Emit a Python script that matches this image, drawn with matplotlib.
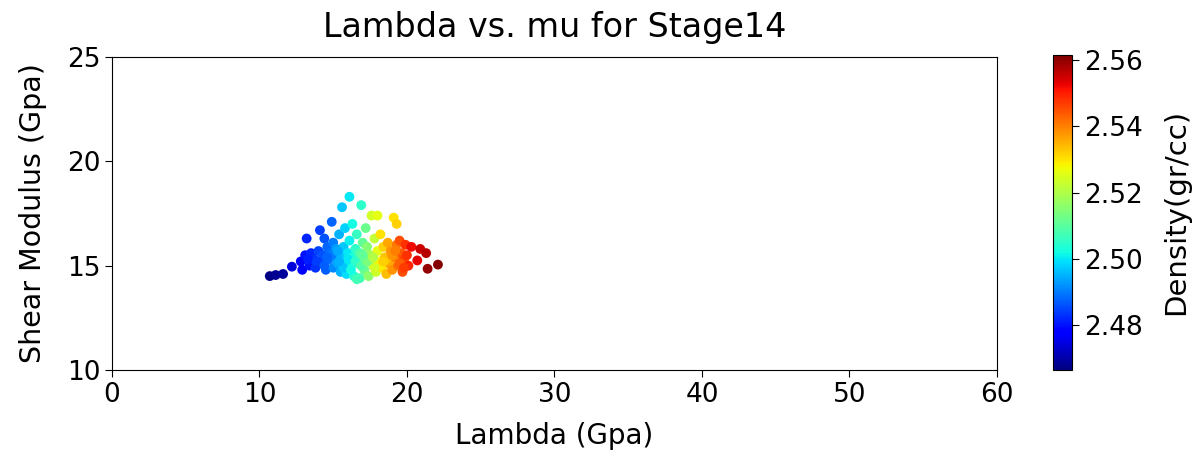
import matplotlib
matplotlib.use("Agg")
import matplotlib.pyplot as plt
import numpy as np

# Lambda (Gpa), shear modulus mu (Gpa) and density (gr/cc) per sample
lam = [10.7, 11.1, 11.6, 12.2, 12.8, 12.9, 13.1, 13.2, 13.4, 13.5, 13.7, 13.8,
       14.0, 14.1, 14.2, 14.3, 14.4, 14.5, 14.6, 14.7, 14.8, 14.9, 15.0, 15.0,
       15.1, 15.2, 15.3, 15.4, 15.5, 15.5, 15.6, 15.7, 15.8, 15.8, 15.9, 16.0,
       16.1, 16.1, 16.2, 16.3, 16.3, 16.4, 16.5, 16.6, 16.7, 16.8, 16.8, 16.9,
       17.0, 17.1, 17.1, 17.2, 17.3, 17.4, 17.5, 17.6, 17.7, 17.8, 17.9, 18.0,
       18.0, 18.1, 18.2, 18.3, 18.4, 18.5, 18.6, 18.7, 18.8, 18.9, 19.0, 19.1,
       19.2, 19.3, 19.3, 19.4, 19.5, 19.6, 19.7, 19.8, 19.9, 20.0, 20.1, 20.3,
       20.7, 20.9, 21.3, 21.4, 22.1,
       13.3, 13.9, 14.4, 14.9, 15.3, 15.7, 16.0, 16.5, 16.9, 17.3, 17.7, 18.2,
       18.6, 19.0, 19.5, 14.6, 15.4, 16.2, 17.0, 17.8, 18.4, 19.2, 19.8, 16.6]
mu = [14.50, 14.55, 14.60, 14.95, 15.20, 14.80, 15.50, 16.30, 15.00, 15.60, 15.30, 14.90,
      15.70, 16.70, 15.20, 15.50, 16.30, 14.80, 15.90, 15.30, 15.60, 17.10, 14.90, 16.10,
      15.40, 15.80, 15.10, 16.50, 14.70, 15.50, 17.80, 15.90, 15.20, 16.80, 14.60, 15.60,
      18.30, 16.20, 15.00, 15.40, 17.00, 14.50, 15.80, 16.50, 15.10, 14.40, 15.60, 17.90,
      16.10, 14.80, 15.30, 16.80, 15.90, 14.50, 15.50, 17.40, 15.00, 16.30, 14.70, 15.70,
      17.40, 15.20, 16.50, 14.90, 15.90, 15.40, 14.60, 16.10, 15.10, 15.70, 14.80, 17.30,
      15.40, 17.00, 16.00, 15.00, 16.20, 15.60, 14.70, 15.30, 16.00, 15.50, 15.00, 15.90,
      15.25, 15.80, 15.60, 14.85, 15.05,
      15.30, 15.20, 15.00, 15.50, 15.70, 14.90, 15.30, 15.20, 15.00, 15.20, 15.40, 15.00,
      15.30, 15.50, 15.10, 15.40, 15.20, 14.80, 15.50, 14.90, 15.20, 15.70, 14.90, 14.35]
rho = [2.467, 2.468, 2.469, 2.474, 2.478, 2.477, 2.480, 2.482, 2.480, 2.482, 2.483, 2.483,
       2.485, 2.484, 2.486, 2.486, 2.486, 2.487, 2.488, 2.489, 2.489, 2.488, 2.491, 2.490,
       2.492, 2.493, 2.494, 2.495, 2.495, 2.496, 2.497, 2.497, 2.498, 2.498, 2.499, 2.500,
       2.500, 2.501, 2.502, 2.503, 2.502, 2.504, 2.505, 2.506, 2.507, 2.508, 2.509, 2.505,
       2.511, 2.512, 2.513, 2.512, 2.515, 2.516, 2.518, 2.524, 2.520, 2.522, 2.523, 2.526,
       2.526, 2.528, 2.530, 2.530, 2.532, 2.533, 2.534, 2.536, 2.536, 2.538, 2.538, 2.530,
       2.540, 2.532, 2.541, 2.542, 2.545, 2.544, 2.545, 2.546, 2.548, 2.548, 2.549, 2.552,
       2.553, 2.555, 2.557, 2.560, 2.561,
       2.481, 2.484, 2.487, 2.490, 2.494, 2.497, 2.500, 2.505, 2.509, 2.514, 2.520, 2.529,
       2.534, 2.538, 2.543, 2.488, 2.495, 2.502, 2.511, 2.524, 2.532, 2.540, 2.547, 2.507]

plt.rcParams["font.family"] = "DejaVu Sans"
plt.rcParams["xtick.major.size"] = 5
plt.rcParams["ytick.major.size"] = 5

fig = plt.figure(figsize=(11.96, 4.57), dpi=100)
ax = fig.add_axes([0.0936, 0.1904, 0.74, 0.685])
cax = fig.add_axes([0.8804, 0.1904, 0.0159, 0.6895])

sc = ax.scatter(lam, mu, c=rho, cmap="jet", s=50, vmin=2.4665, vmax=2.5615,
                edgecolors="none")
ax.set_xlim(0, 60)
ax.set_ylim(10, 25)
ax.set_xticks([0, 10, 20, 30, 40, 50, 60])
ax.set_yticks([10, 15, 20, 25])
ax.tick_params(labelsize=19)
ax.set_xlabel("Lambda (Gpa)", fontsize=20, labelpad=10)
ax.set_ylabel("Shear Modulus (Gpa)", fontsize=20.5, labelpad=14)
ax.set_title("Lambda vs. mu for Stage14", fontsize=24, pad=14)

cb = fig.colorbar(sc, cax=cax)
cb.set_ticks([2.48, 2.50, 2.52, 2.54, 2.56])
cb.ax.tick_params(labelsize=19)
cb.set_label("Density(gr/cc)", fontsize=21, labelpad=14)

fig.savefig("out.png", dpi=100)
